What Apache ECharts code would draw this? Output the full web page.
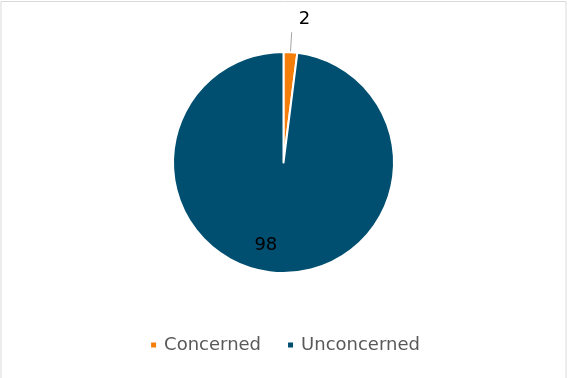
<!DOCTYPE html>
<html>
<head>
<meta charset="utf-8">
<script src="https://cdn.jsdelivr.net/npm/echarts@6/dist/echarts.min.js"></script>
<style>
html,body{margin:0;padding:0;background:#fff;}
#chart{width:569px;height:378px;}
</style>
</head>
<body>
<div id="chart"></div>
<script>
const categories = ['Concerned', 'Unconcerned'];
const values = [2, 98];
const colors = ['#F57E0A', '#004F71'];

const chart = echarts.init(document.getElementById('chart'), null, {renderer: 'canvas'});
const FONT = 'DejaVu Sans';

chart.setOption({
  animation: false,
  backgroundColor: '#fff',
  graphic: [{
    type: 'rect',
    shape: {x: 1, y: 1.5, width: 565, height: 390},
    style: {fill: 'none', stroke: '#d9d9d9', lineWidth: 1},
    silent: true
  }],
  legend: {
    bottom: 19,
    left: 'center',
    itemWidth: 7,
    itemHeight: 7,
    itemGap: 25,
    icon: 'rect',
    textStyle: {color: '#595959', fontSize: 18, fontFamily: FONT, padding: [0, 0, 0, 2]},
    data: categories
  },
  series: [{
    type: 'pie',
    center: [283.5, 162.5],
    radius: [0, 110.5],
    startAngle: 90,
    clockwise: true,
    itemStyle: {borderColor: '#fff', borderWidth: 2},
    label: {
      show: true,
      color: '#000',
      fontSize: 18,
      fontFamily: FONT,
      formatter: '{c}'
    },
    labelLine: {show: true, length: 20, length2: 0, lineStyle: {color: '#a6a6a6', width: 1}},
    labelLayout: function (params) {
      if (params.dataIndex === 1) {
        return {dx: -14, dy: 25};
      }
      return {dx: 2, dy: -13};
    },
    emphasis: {disabled: true},
    data: categories.map((c, i) => ({
      name: c,
      value: values[i],
      itemStyle: {color: colors[i]},
      label: i === 1 ? {position: 'inside'} : {position: 'outside'},
      labelLine: i === 1 ? {show: false} : {show: true}
    }))
  }]
});
</script>
</body>
</html>
